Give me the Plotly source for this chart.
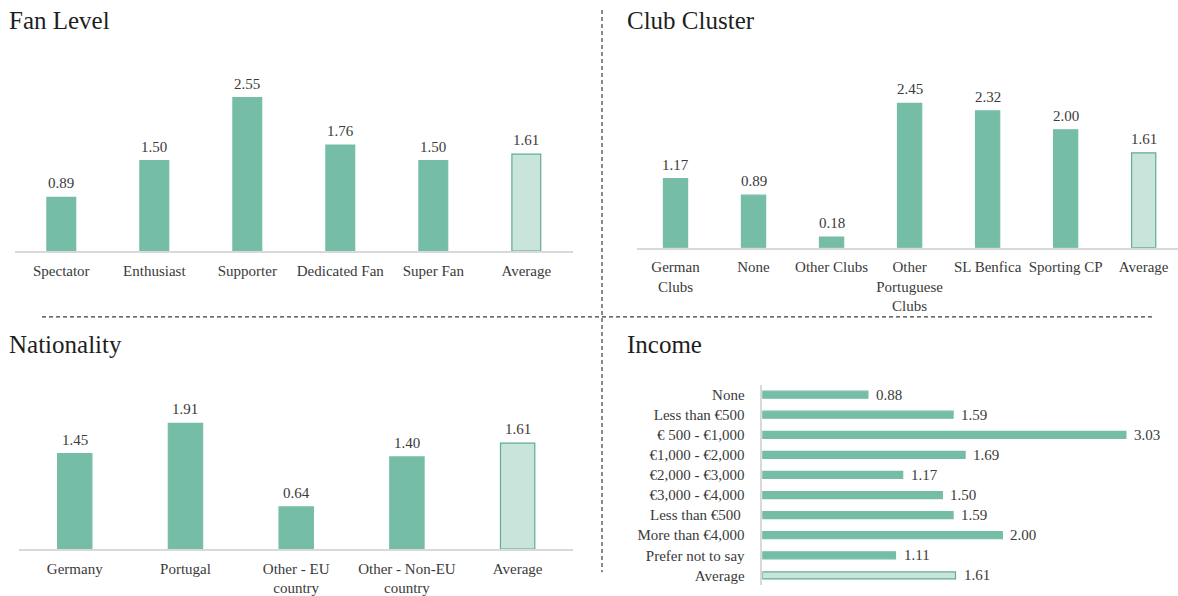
import plotly.graph_objects as go

# ---- data ----
fan_levels = ["Spectator", "Enthusiast", "Supporter", "Dedicated Fan", "Super Fan", "Average"]
fan_values = [0.89, 1.50, 2.55, 1.76, 1.50, 1.61]

clubs = ["German<br>Clubs", "None", "Other Clubs", "Other<br>Portuguese<br>Clubs",
         "SL Benfica", "Sporting CP", "Average"]
club_values = [1.17, 0.89, 0.18, 2.45, 2.32, 2.00, 1.61]

nationalities = ["Germany", "Portugal", "Other - EU<br>country", "Other - Non-EU<br>country", "Average"]
nationality_values = [1.45, 1.91, 0.64, 1.40, 1.61]

incomes = ["None", "Less than €500", "€ 500 - €1,000", "€1,000 - €2,000", "€2,000 - €3,000",
           "€3,000 - €4,000", "Less than €500 ", "More than €4,000", "Prefer not to say", "Average"]
income_values = [0.88, 1.59, 3.03, 1.69, 1.17, 1.50, 1.59, 2.00, 1.11, 1.61]

panel_titles = ["Fan Level", "Club Cluster", "Nationality", "Income"]

# ---- styling ----
W, H = 1178, 596
FONT = "Times New Roman"
BAR = "#76BDA7"
AVG_FILL = "#C9E5DB"
AVG_LINE = "#5DAE8F"
AXIS = "#D9D9D9"
TEXT = "#3A3A3A"


def px_x(p):
    return p / W


def px_y(p):
    return 1 - p / H


def colors(cats):
    return [AVG_FILL if c.strip() == "Average" else BAR for c in cats]


def lines(cats):
    return [AVG_LINE if c.strip() == "Average" else BAR for c in cats]


fig = go.Figure()

# vertical bar panels: (categories, values, axis id, x-domain px, baseline px, px per unit, y max, x range)
vpanels = [
    (fan_levels, fan_values, "", (14.8, 572.8), 252.7, 60.6, 3.0, None),
    (clubs, club_values, "2", (636.5, 1178), 249.3, 59.3, 3.0, [-0.5, 6.44]),
    (nationalities, nationality_values, "3", (19.4, 573.0), 552.7, 66.2, 2.2, None),
]

layout_axes = {}
for cats, vals, ax, (x0, x1), base, ppu, ymax, xr in vpanels:
    fig.add_trace(go.Bar(
        x=cats, y=vals, xaxis="x" + ax, yaxis="y" + ax,
        marker=dict(color=colors(cats), line=dict(color=lines(cats), width=1.2)),
        width=0.31, hoverinfo="skip", showlegend=False,
    ))
    top = base - ymax * ppu
    layout_axes["xaxis" + ax] = dict(
        domain=[px_x(x0), min(px_x(x1), 1.0)], anchor="y" + ax,
        type="category", showline=True, linecolor=AXIS, linewidth=1.5,
        showgrid=False, zeroline=False, ticks="", ticklabelstandoff=5,
        tickfont=dict(size=15, color=TEXT),
        fixedrange=True, **({"range": xr} if xr else {}),
    )
    layout_axes["yaxis" + ax] = dict(
        domain=[px_y(base), px_y(top)], anchor="x" + ax,
        range=[0, ymax], visible=False, fixedrange=True,
    )

# horizontal bar panel (income)
ax = "4"
fig.add_trace(go.Bar(
    x=income_values, y=incomes, orientation="h", xaxis="x" + ax, yaxis="y" + ax,
    marker=dict(color=colors(incomes), line=dict(color=lines(incomes), width=1.2)),
    width=0.35, hoverinfo="skip", showlegend=False,
))
x_start, ppu_h, xmax = 762.3, 120.0, 3.3
layout_axes["xaxis" + ax] = dict(
    domain=[px_x(x_start), px_x(x_start + xmax * ppu_h)], anchor="y" + ax,
    range=[0, xmax], visible=False, fixedrange=True,
)
layout_axes["yaxis" + ax] = dict(
    domain=[px_y(589.4), px_y(387.2)], anchor="x" + ax,
    type="category", autorange="reversed",
    showline=True, linecolor=AXIS, linewidth=1.5, showgrid=False, zeroline=False,
    ticks="", ticklabelstandoff=13,
    tickfont=dict(size=15, color=TEXT), fixedrange=True,
)

fig.update_layout(
    width=W, height=H,
    margin=dict(l=0, r=0, t=0, b=0),
    paper_bgcolor="white", plot_bgcolor="rgba(0,0,0,0)",
    font=dict(family=FONT, color=TEXT),
    bargap=0.69,
    **layout_axes,
)

# value labels
for cats, vals, ax, *_ in vpanels:
    for c, v in zip(cats, vals):
        fig.add_annotation(
            x=c, y=v, xref="x" + ax, yref="y" + ax, text=f"{v:.2f}",
            showarrow=False, yanchor="bottom", yshift=4,
            font=dict(family=FONT, size=15, color=TEXT),
        )
for c, v in zip(incomes, income_values):
    fig.add_annotation(
        x=v, y=c, xref="x4", yref="y4", text=f"{v:.2f}",
        showarrow=False, xanchor="left", xshift=6,
        font=dict(family=FONT, size=15, color=TEXT),
    )

# panel titles
for title, (tx, ty) in zip(panel_titles, [(7, 21), (625, 21), (7, 347), (625, 347)]):
    fig.add_annotation(
        x=px_x(tx), y=px_y(ty), xref="paper", yref="paper", text=title,
        showarrow=False, xanchor="left", yanchor="middle",
        font=dict(family=FONT, size=25, color="#1E1E1E"),
    )

# dashed dividers between the panels
fig.add_shape(type="line", xref="paper", yref="paper",
              x0=px_x(602), x1=px_x(602), y0=px_y(10), y1=px_y(576),
              line=dict(color="#3C3C3C", width=1.2, dash="4px,3px"))
fig.add_shape(type="line", xref="paper", yref="paper",
              x0=px_x(42), x1=px_x(1155), y0=px_y(319), y1=px_y(319),
              line=dict(color="#3C3C3C", width=1.2, dash="4px,3px"))

fig.write_html("out.html")
